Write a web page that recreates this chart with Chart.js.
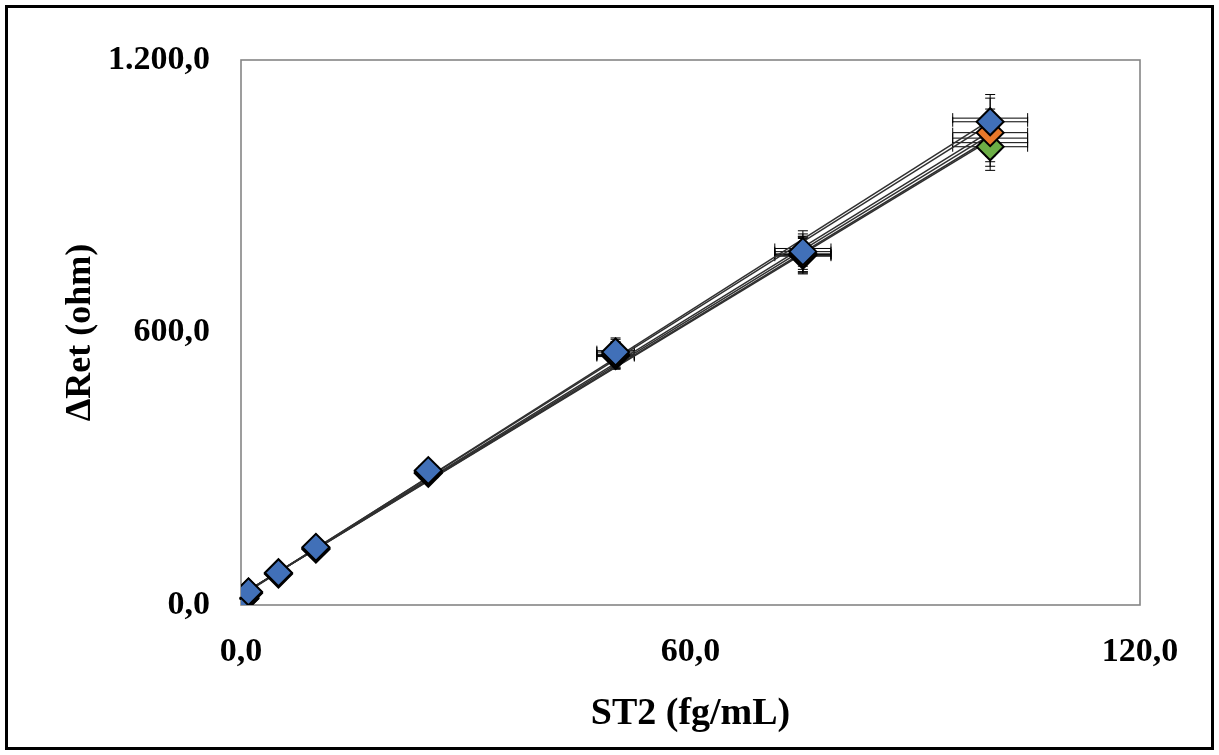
<!DOCTYPE html>
<html>
<head>
<meta charset="utf-8">
<script src="https://cdn.jsdelivr.net/npm/chart.js@4.4.0/dist/chart.umd.min.js"></script>
<style>
  html, body { margin: 0; padding: 0; background: #fff; }
  #wrap { position: relative; width: 1219px; height: 755px; }
  #wrap canvas { position: absolute; left: 0; top: 0; }
  #frame {
    position: absolute; left: 5px; top: 5px; width: 1209px; height: 745px;
    border: 3px solid #000; box-sizing: border-box; pointer-events: none;
  }
</style>
</head>
<body>
<div id="wrap">
  <canvas id="chart" width="1219" height="755"></canvas>
  <div id="frame"></div>
</div>
<script>
// ST2 concentration (fg/mL)
const concentrations = [0.5, 1, 5, 10, 25, 50, 75, 100];

// ΔRet (ohm) for each replicate calibration run
const runBlue   = [16, 29, 71, 127, 296, 557, 778, 1064];
const runOrange = [15, 28, 70, 125, 293, 552, 773, 1040];
const runGreen  = [14, 26, 68, 123, 290, 549, 770, 1009];
const runD      = [15, 28, 70, 126, 295, 560, 785, 1072];
const runE      = [14, 27, 69, 124, 292, 550, 772, 1028];
const runF      = [14, 27, 69, 124, 291, 547, 768, 1018];

// error bar half-widths
const xErrors = [0.03, 0.05, 0.25, 0.5, 1.25, 2.5, 3.75, 5];
const yErrors = [1, 1.5, 3.5, 6, 15, 28, 39, 52];

// axis ticks
const xTickValues = [0, 60, 120];
const xTickLabels = ['0,0', '60,0', '120,0'];
const yTickValues = [0, 600, 1200];
const yTickLabels = ['0,0', '600,0', '1.200,0'];

const toPoints = vals => concentrations.map((c, i) => ({ x: c, y: vals[i] }));

// least-squares straight line over the measured range
function trendLine(vals) {
  const n = vals.length;
  const mx = concentrations.reduce((s, v) => s + v, 0) / n;
  const my = vals.reduce((s, v) => s + v, 0) / n;
  let sxy = 0, sxx = 0;
  concentrations.forEach((c, i) => { sxy += (c - mx) * (vals[i] - my); sxx += (c - mx) * (c - mx); });
  const slope = sxy / sxx;
  const icpt = my - slope * mx;
  const x0 = Math.min(...concentrations), x1 = Math.max(...concentrations);
  return [{ x: x0, y: icpt + slope * x0 }, { x: x1, y: icpt + slope * x1 }];
}

const allRuns = [runD, runBlue, runOrange, runE, runF, runGreen];
const markerRuns = [
  { vals: runBlue,   color: '#4170B8', order: 0 },
  { vals: runOrange, color: '#E8782A', order: 1 },
  { vals: runGreen,  color: '#6CAE46', order: 2 }
];

const datasets = [];
allRuns.forEach(vals => {
  // measurement series carrying the error bars (markers drawn separately)
  datasets.push({
    data: toPoints(vals),
    showLine: false,
    pointRadius: 0,
    order: 20,
    errorBars: true
  });
  // linear trend line of the run
  datasets.push({
    data: trendLine(vals),
    showLine: true,
    borderColor: '#303030',
    borderWidth: 1.5,
    pointRadius: 0,
    fill: false,
    order: 10
  });
});
markerRuns.forEach(m => {
  datasets.push({
    data: toPoints(m.vals),
    showLine: false,
    pointStyle: 'rectRot',
    pointRadius: 13.5,
    pointBackgroundColor: m.color,
    pointBorderColor: '#000',
    pointBorderWidth: 2,
    order: m.order
  });
});

// frame around the plotting area
const plotFrame = {
  id: 'plotFrame',
  beforeDatasetsDraw(chart) {
    const { ctx, chartArea: a } = chart;
    ctx.save();
    ctx.strokeStyle = '#858585';
    ctx.lineWidth = 1.6;
    ctx.strokeRect(a.left, a.top, a.right - a.left, a.bottom - a.top);
    ctx.restore();
  }
};

// x and y error bars with caps, behind the markers
const errorBars = {
  id: 'errorBars',
  beforeDatasetsDraw(chart) {
    const { ctx, scales: { x, y } } = chart;
    const cap = 5;
    ctx.save();
    ctx.strokeStyle = '#000';
    ctx.lineWidth = 1;
    chart.data.datasets.forEach(ds => {
      if (!ds.errorBars) return;
      ds.data.forEach((p, i) => {
        const px = x.getPixelForValue(p.x);
        const py = y.getPixelForValue(p.y);
        const x0 = x.getPixelForValue(p.x - xErrors[i]);
        const x1 = x.getPixelForValue(p.x + xErrors[i]);
        const y0 = y.getPixelForValue(p.y - yErrors[i]);
        const y1 = y.getPixelForValue(p.y + yErrors[i]);
        ctx.beginPath();
        ctx.moveTo(x0, py); ctx.lineTo(x1, py);
        ctx.moveTo(x0, py - cap); ctx.lineTo(x0, py + cap);
        ctx.moveTo(x1, py - cap); ctx.lineTo(x1, py + cap);
        ctx.moveTo(px, y0); ctx.lineTo(px, y1);
        ctx.moveTo(px - cap, y0); ctx.lineTo(px + cap, y0);
        ctx.moveTo(px - cap, y1); ctx.lineTo(px + cap, y1);
        ctx.stroke();
      });
    });
    ctx.restore();
  }
};

const serif = '"Liberation Serif", "Times New Roman", serif';

new Chart(document.getElementById('chart'), {
  type: 'scatter',
  data: { datasets },
  options: {
    responsive: false,
    animation: false,
    layout: { padding: { left: 0, top: 60, right: 79, bottom: 0 } },
    plugins: { legend: { display: false }, tooltip: { enabled: false } },
    scales: {
      x: {
        type: 'linear',
        min: 0, max: 120,
        grid: { display: false, drawTicks: false },
        border: { display: false },
        afterBuildTicks: s => { s.ticks = xTickValues.map(v => ({ value: v })); },
        afterFit: s => { s.height = 150; },
        ticks: {
          padding: 27,
          color: '#000',
          font: { family: serif, size: 34, weight: 'bold' },
          maxRotation: 0,
          callback: (v, i) => xTickLabels[i]
        },
        title: {
          display: true,
          text: 'ST2 (fg/mL)',
          color: '#000',
          font: { family: serif, size: 38, weight: 'bold' },
          padding: { top: 0, bottom: 18 }
        }
      },
      y: {
        type: 'linear',
        min: 0, max: 1200,
        grid: { display: false, drawTicks: false },
        border: { display: false },
        afterBuildTicks: s => { s.ticks = yTickValues.map(v => ({ value: v })); },
        afterFit: s => { s.width = 241; },
        ticks: {
          padding: 31,
          color: '#000',
          font: { family: serif, size: 34, weight: 'bold' },
          callback: (v, i) => yTickLabels[i]
        },
        title: {
          display: true,
          text: 'ΔRet (ohm)',
          color: '#000',
          font: { family: serif, size: 36, weight: 'bold' },
          padding: { top: 59, bottom: 0 }
        }
      }
    }
  },
  plugins: [plotFrame, errorBars]
});
</script>
</body>
</html>
